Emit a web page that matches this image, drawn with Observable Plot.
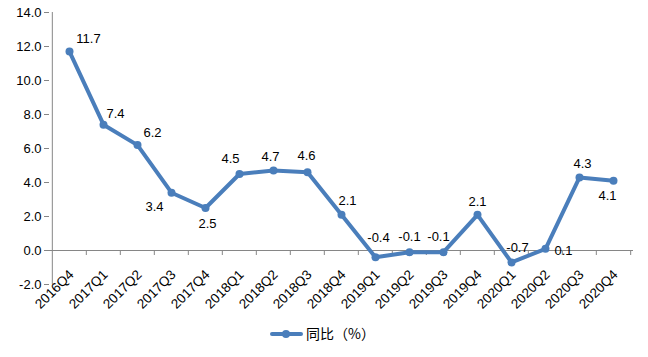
<!DOCTYPE html>
<html>
<head>
<meta charset="utf-8">
<script src="https://cdn.jsdelivr.net/npm/d3@7"></script>
<script src="https://cdn.jsdelivr.net/npm/@observablehq/plot@0.6"></script>
<style>
  html, body { margin: 0; padding: 0; background: #fff; }
  #chart { width: 648px; }
  .legend { position: relative; height: 30px; width: 648px; font-family: "Noto Sans CJK SC", sans-serif; font-size: 14px; color: #000; }
  .legend .sw { position: absolute; left: 270px; top: 12px; width: 33px; height: 4px; background: #4a7ebb; border-radius: 2px; }
  .legend .dt { position: absolute; left: 282px; top: 10px; width: 8px; height: 8px; border-radius: 50%; background: #4a7ebb; }
  .legend .tx { position: absolute; left: 306px; top: 3px; line-height: 20px; }
</style>
</head>
<body>
<div id="chart"></div>
<div class="legend"><div class="sw"></div><div class="dt"></div><div class="tx">同比（%）</div></div>
<script>
const quarters = ["2016Q4","2017Q1","2017Q2","2017Q3","2017Q4","2018Q1","2018Q2","2018Q3","2018Q4","2019Q1","2019Q2","2019Q3","2019Q4","2020Q1","2020Q2","2020Q3","2020Q4"];
const yoy = [11.7, 7.4, 6.2, 3.4, 2.5, 4.5, 4.7, 4.6, 2.1, -0.4, -0.1, -0.1, 2.1, -0.7, 0.1, 4.3, 4.1];
const yTicks = [-2, 0, 2, 4, 6, 8, 10, 12, 14];
const seriesName = "同比（%）";

// label nudges (pixel styling, per point)
const nudge = [[19,-13],[12,-11],[15,-12],[-17,14],[2,16],[-9,-15],[-3,-14],[-1,-16],[6,-14],[3,-19],[0,-15],[-5,-15],[0,-13],[6,-15],[18,2],[3,-14],[-6,15]];

const data = quarters.map((q, i) => ({q, v: yoy[i]}));

const W = 648, H = 320, ML = 49, MR = 15, MT = 12, MB = 36;
const bw = (W - ML - MR) / quarters.length;
const blue = "#4a7ebb", gray = "#868686";

const labelMarks = data.map((d, i) => Plot.text([d], {
  x: "q", y: "v", text: d => d.v.toFixed(1), dx: nudge[i][0], dy: nudge[i][1],
  fill: "#000", fontSize: 13
}));

const chart = Plot.plot({
  width: W, height: H,
  marginLeft: ML, marginRight: MR, marginTop: MT, marginBottom: MB,
  style: {fontFamily: "'Liberation Sans', Arial, sans-serif", fontSize: "13px", background: "#fff", color: "#000", overflow: "visible"},
  x: {type: "band", domain: quarters, padding: 0, axis: null},
  y: {domain: [-2, 14], axis: null},
  marks: [
    Plot.ruleX([quarters[0]], {x: d => d, dx: -bw / 2, stroke: gray, strokeWidth: 1}),
    Plot.axisY({ticks: yTicks, tickFormat: d => d.toFixed(1), tickSize: 5, tickPadding: 3, stroke: gray, fill: "#000", fontSize: 13, label: null}),
    Plot.ruleY([0], {stroke: gray, strokeWidth: 1}),
    Plot.ruleX(quarters.slice(1), {x: d => d, dx: -bw / 2, y1: 0, y2: 0, insetBottom: -5, stroke: gray}),
    Plot.ruleX([quarters[quarters.length - 1]], {x: d => d, dx: bw / 2, y1: 0, y2: 0, insetBottom: -5, stroke: gray}),
    Plot.text(quarters, {x: d => d, frameAnchor: "bottom", dy: -9, dx: 5, rotate: -45, textAnchor: "end", text: d => d, fill: "#000", fontSize: 13.5}),
    Plot.line(data, {x: "q", y: "v", stroke: blue, strokeWidth: 4, strokeLinejoin: "round", strokeLinecap: "round"}),
    Plot.dot(data, {x: "q", y: "v", r: 4, fill: blue, stroke: "none"}),
    ...labelMarks
  ]
});
document.getElementById("chart").appendChild(chart);
</script>
</body>
</html>
